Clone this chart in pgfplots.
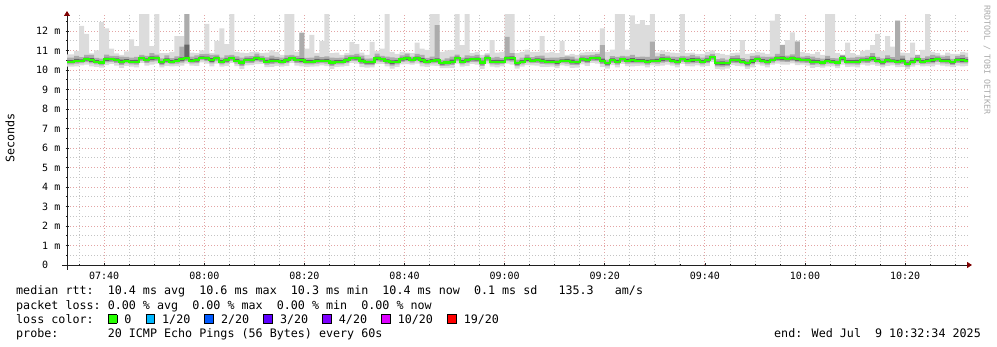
\documentclass[border=0pt]{standalone}
\usepackage{pgfplots}
\pgfplotsset{compat=1.18}
\usepackage{pgfplotstable}
\usepgfplotslibrary{fillbetween}
\usetikzlibrary{arrows.meta}
\usepackage{fontspec}
\newfontfamily\mono{DejaVu Sans Mono}
\newcommand\axfont{\mono\fontsize{10bp}{12bp}\selectfont}
\newcommand\lgfont{\mono\fontsize{11.7bp}{14bp}\selectfont}
\definecolor{smokeA}{HTML}{DCDCDC}
\definecolor{smokeB}{HTML}{ACACAC}
\definecolor{smokeC}{HTML}{666666}
\definecolor{loss0}{HTML}{26FF00}
\definecolor{loss1}{HTML}{00B8FF}
\definecolor{loss2}{HTML}{0059FF}
\definecolor{loss3}{HTML}{5E00FF}
\definecolor{loss4}{HTML}{7E00FF}
\definecolor{loss10}{HTML}{DD00FF}
\definecolor{loss19}{HTML}{FF0000}
\definecolor{mgridc}{HTML}{E3A4A4}
\definecolor{gridc}{HTML}{C4C4C4}
\definecolor{axiscol}{HTML}{202020}
\definecolor{arrowred}{HTML}{7F0000}
\definecolor{wmark}{HTML}{AAAAAA}
\newcommand\swatch[1]{{\setlength\fboxsep{0pt}\setlength\fboxrule{0.8bp}\fcolorbox{black}{#1}{\rule{0pt}{8bp}\rule{8bp}{0pt}}}}
\pgfplotstableread{
t mn p10 p25 med p75 p90 mx
32.567 10.17 10.29 10.36 10.43 10.51 10.63 10.80
33 10.17 10.29 10.36 10.43 10.51 10.63 10.80
34 10.18 10.32 10.40 10.48 10.57 10.72 10.98
35 10.24 10.35 10.42 10.48 10.55 10.66 12.26
36 10.27 10.40 10.48 10.55 10.64 10.77 11.85
37 10.19 10.34 10.42 10.51 10.61 10.77 10.85
38 10.16 10.29 10.37 10.43 10.51 10.62 11.00
39 10.12 10.24 10.31 10.38 10.46 10.58 12.46
40 10.25 10.39 10.47 10.55 10.64 10.79 12.14
41 10.31 10.42 10.49 10.55 10.62 10.73 11.10
42 10.23 10.36 10.44 10.51 10.60 10.73 10.85
43 10.11 10.26 10.34 10.43 10.53 10.69 10.77
44 10.21 10.34 10.42 10.48 10.56 10.67 10.95
45 10.17 10.29 10.36 10.43 10.51 10.63 11.57
46 10.13 10.27 10.35 10.43 10.52 10.67 11.23
47 10.36 10.47 10.54 10.60 10.67 10.78 12.90
48 10.23 10.36 10.44 10.51 10.60 10.73 12.90
49 10.28 10.43 10.51 10.60 10.70 10.86 11.23
50 10.33 10.46 10.54 10.60 10.68 10.79 12.90
51 10.13 10.25 10.32 10.39 10.47 10.59 10.86
52 10.21 10.35 10.43 10.51 10.60 10.75 10.86
53 10.19 10.30 10.37 10.43 10.50 10.61 10.93
54 10.20 10.33 10.41 10.48 10.57 10.70 11.74
55 10.23 10.38 10.46 10.55 10.65 11.20 11.74
56 10.33 10.46 10.54 10.60 11.30 12.90 12.90
57 10.22 10.34 10.41 10.48 10.56 10.68 10.89
58 10.21 10.35 10.43 10.51 10.60 10.75 10.86
59 10.39 10.50 10.57 10.63 10.70 10.81 11.00
60 10.32 10.45 10.53 10.60 10.69 10.82 12.36
61 10.19 10.34 10.42 10.51 10.61 10.77 10.86
62 10.33 10.46 10.54 10.60 10.68 10.79 11.49
63 10.17 10.29 10.36 10.43 10.51 10.63 12.13
64 10.21 10.35 10.43 10.51 10.60 10.75 11.33
65 10.36 10.47 10.54 10.60 10.67 10.78 12.90
66 10.20 10.33 10.41 10.48 10.57 10.70 10.93
67 10.06 10.21 10.29 10.38 10.48 10.64 10.89
68 10.24 10.37 10.45 10.51 10.59 10.70 10.86
69 10.25 10.37 10.44 10.51 10.59 10.71 10.93
70 10.30 10.44 10.52 10.60 10.69 10.84 10.93
71 10.31 10.42 10.49 10.55 10.62 10.73 10.86
72 10.15 10.28 10.36 10.43 10.52 10.65 10.89
73 10.16 10.31 10.39 10.48 10.58 10.74 11.00
74 10.21 10.34 10.42 10.48 10.56 10.67 10.93
75 10.17 10.29 10.36 10.43 10.51 10.63 10.77
76 10.21 10.35 10.43 10.51 10.60 10.75 12.90
77 10.36 10.47 10.54 10.60 10.67 10.78 12.90
78 10.23 10.36 10.44 10.51 10.60 10.73 10.93
79 10.19 10.34 10.42 10.51 10.61 11.90 11.93
80 10.16 10.29 10.37 10.43 10.51 10.62 11.10
81 10.17 10.29 10.36 10.43 10.51 10.63 11.80
82 10.18 10.32 10.40 10.48 10.57 10.72 10.86
83 10.24 10.35 10.42 10.48 10.55 10.66 11.49
84 10.20 10.33 10.41 10.48 10.57 10.70 12.90
85 10.06 10.21 10.29 10.38 10.48 10.64 10.86
86 10.16 10.29 10.37 10.43 10.51 10.62 10.89
87 10.17 10.29 10.36 10.43 10.51 10.63 10.77
88 10.21 10.35 10.43 10.51 10.60 10.75 10.86
89 10.36 10.47 10.54 10.60 10.67 10.78 11.44
90 10.32 10.45 10.53 10.60 10.69 10.82 11.33
91 10.16 10.31 10.39 10.48 10.58 10.74 10.89
92 10.12 10.25 10.33 10.39 10.47 10.58 10.77
93 10.13 10.25 10.32 10.39 10.47 10.59 11.44
94 10.30 10.44 10.52 10.60 10.69 10.84 10.98
95 10.31 10.42 10.49 10.55 10.62 10.73 11.10
96 10.18 10.31 10.39 10.46 10.55 10.68 12.90
97 10.07 10.22 10.30 10.39 10.49 10.65 10.93
98 10.16 10.29 10.37 10.43 10.51 10.62 10.82
99 10.29 10.41 10.48 10.55 10.63 10.75 10.93
100 10.30 10.44 10.52 10.60 10.69 10.84 10.89
101 10.27 10.38 10.45 10.51 10.58 10.69 10.86
102 10.32 10.45 10.53 10.60 10.69 10.82 11.40
103 10.19 10.34 10.42 10.51 10.61 10.77 11.10
104 10.16 10.29 10.37 10.43 10.51 10.62 11.03
105 10.22 10.34 10.41 10.48 10.56 10.68 12.90
106 10.21 10.35 10.43 10.51 10.60 12.30 12.90
107 10.10 10.21 10.28 10.34 10.41 10.52 10.93
108 10.10 10.23 10.31 10.38 10.47 10.60 11.00
109 10.11 10.26 10.34 10.43 10.53 10.69 11.03
110 10.33 10.46 10.54 10.60 10.68 10.79 12.90
111 10.17 10.29 10.36 10.43 10.51 10.63 11.28
112 10.21 10.35 10.43 10.51 10.60 10.75 12.90
113 10.31 10.42 10.49 10.55 10.62 10.73 10.86
114 10.27 10.40 10.48 10.55 10.64 10.77 10.93
115 10.06 10.21 10.29 10.38 10.48 10.64 10.77
116 10.33 10.46 10.54 10.60 10.68 10.79 10.86
117 10.17 10.29 10.36 10.43 10.51 10.63 11.53
118 10.13 10.27 10.35 10.43 10.52 10.67 10.89
119 10.19 10.30 10.37 10.43 10.50 10.61 10.93
120 10.32 10.45 10.53 10.60 10.69 11.70 12.90
121 10.28 10.43 10.51 10.60 10.70 10.86 12.90
122 10.07 10.20 10.28 10.34 10.42 10.53 10.86
123 10.17 10.29 10.36 10.43 10.51 10.63 10.93
124 10.25 10.39 10.47 10.55 10.64 10.79 11.05
125 10.24 10.35 10.42 10.48 10.55 10.66 10.93
126 10.23 10.36 10.44 10.51 10.60 10.73 10.93
127 10.16 10.31 10.39 10.48 10.58 10.74 11.74
128 10.16 10.29 10.37 10.43 10.51 10.62 10.89
129 10.17 10.29 10.36 10.43 10.51 10.63 10.93
130 10.09 10.23 10.31 10.39 10.48 10.63 10.86
131 10.24 10.35 10.42 10.48 10.55 10.66 11.49
132 10.20 10.33 10.41 10.48 10.57 10.70 10.77
133 10.11 10.26 10.34 10.43 10.53 10.69 10.82
134 10.12 10.25 10.33 10.39 10.47 10.58 10.77
135 10.29 10.41 10.48 10.55 10.63 10.75 10.89
136 10.21 10.35 10.43 10.51 10.60 10.75 10.93
137 10.36 10.47 10.54 10.60 10.67 10.78 10.93
138 10.32 10.45 10.53 10.60 10.69 10.82 10.93
139 10.16 10.31 10.39 10.48 10.58 11.28 12.14
140 10.07 10.20 10.28 10.34 10.42 10.53 10.93
141 10.25 10.37 10.44 10.51 10.59 10.71 11.05
142 10.13 10.27 10.35 10.43 10.52 10.67 12.90
143 10.31 10.42 10.49 10.55 10.62 10.73 12.90
144 10.20 10.33 10.41 10.48 10.57 10.70 11.05
145 10.19 10.34 10.42 10.51 10.61 10.77 12.80
146 10.21 10.34 10.42 10.48 10.56 10.67 12.36
147 10.22 10.34 10.41 10.48 10.56 10.68 12.56
148 10.13 10.27 10.35 10.43 10.52 10.67 12.30
149 10.24 10.35 10.42 10.48 10.55 11.45 12.90
150 10.20 10.33 10.41 10.48 10.57 10.70 10.89
151 10.23 10.38 10.46 10.55 10.65 10.81 11.00
152 10.28 10.41 10.49 10.55 10.63 10.74 10.93
153 10.22 10.34 10.41 10.48 10.56 10.68 10.89
154 10.13 10.27 10.35 10.43 10.52 10.67 10.86
155 10.31 10.42 10.49 10.55 10.62 10.73 12.90
156 10.20 10.33 10.41 10.48 10.57 10.70 10.86
157 10.19 10.34 10.42 10.51 10.61 10.77 10.89
158 10.24 10.37 10.45 10.51 10.59 10.70 10.82
159 10.17 10.29 10.36 10.43 10.51 10.63 10.82
160 10.21 10.35 10.43 10.51 10.60 10.75 10.93
161 10.41 10.52 10.59 10.65 10.72 10.83 11.00
162 10.06 10.19 10.27 10.34 10.43 10.56 10.86
163 10.02 10.17 10.25 10.34 10.44 10.60 10.82
164 10.07 10.20 10.28 10.34 10.42 10.53 10.77
165 10.25 10.37 10.44 10.51 10.59 10.71 10.86
166 10.21 10.35 10.43 10.51 10.60 10.75 10.89
167 10.19 10.30 10.37 10.43 10.50 10.61 11.53
168 10.06 10.19 10.27 10.34 10.43 10.56 10.82
169 10.14 10.29 10.37 10.46 10.56 10.72 10.86
170 10.29 10.42 10.50 10.56 10.64 10.75 10.93
171 10.22 10.34 10.41 10.48 10.56 10.68 10.89
172 10.13 10.27 10.35 10.43 10.52 10.67 10.82
173 10.27 10.38 10.45 10.51 10.58 10.69 12.53
174 10.32 10.45 10.53 10.60 10.69 10.82 12.90
175 10.28 10.43 10.51 10.60 10.70 11.28 11.30
176 10.28 10.41 10.49 10.55 10.63 10.74 11.53
177 10.34 10.46 10.53 10.60 10.68 10.80 11.93
178 10.25 10.39 10.47 10.55 10.64 11.45 11.50
179 10.27 10.38 10.45 10.51 10.58 10.69 10.93
180 10.23 10.36 10.44 10.51 10.60 10.73 10.86
181 10.11 10.26 10.34 10.43 10.53 10.69 10.82
182 10.16 10.29 10.37 10.43 10.51 10.62 10.93
183 10.12 10.24 10.31 10.38 10.46 10.58 10.77
184 10.18 10.32 10.40 10.48 10.57 10.72 12.90
185 10.19 10.30 10.37 10.43 10.50 10.61 12.90
186 10.10 10.23 10.31 10.38 10.47 10.60 10.86
187 10.28 10.43 10.51 10.60 10.70 10.77 10.77
188 10.16 10.29 10.37 10.43 10.51 10.62 11.40
189 10.17 10.29 10.36 10.43 10.51 10.63 10.86
190 10.13 10.27 10.35 10.43 10.52 10.67 10.77
191 10.27 10.38 10.45 10.51 10.58 10.69 10.98
192 10.23 10.36 10.44 10.51 10.60 10.73 11.03
193 10.28 10.43 10.51 10.60 10.70 10.86 11.28
194 10.21 10.34 10.42 10.48 10.56 10.67 11.85
195 10.13 10.25 10.32 10.39 10.47 10.59 10.98
196 10.21 10.35 10.43 10.51 10.60 10.75 11.74
197 10.24 10.35 10.42 10.48 10.55 10.66 11.20
198 10.15 10.28 10.36 10.43 10.52 12.50 12.56
199 10.16 10.31 10.39 10.48 10.58 10.74 10.89
200 10.04 10.17 10.25 10.31 10.39 10.50 10.86
201 10.17 10.29 10.36 10.43 10.51 10.63 11.40
202 10.25 10.39 10.47 10.55 10.64 10.77 10.77
203 10.19 10.30 10.37 10.43 10.50 10.61 11.03
204 10.20 10.33 10.41 10.48 10.57 10.70 12.90
205 10.19 10.34 10.42 10.51 10.61 10.77 10.93
206 10.28 10.41 10.49 10.55 10.63 10.74 10.86
207 10.22 10.34 10.41 10.48 10.56 10.68 10.77
208 10.18 10.32 10.40 10.48 10.57 10.72 10.89
209 10.15 10.26 10.33 10.39 10.46 10.57 10.82
210 10.23 10.36 10.44 10.51 10.60 10.73 10.82
211 10.19 10.34 10.42 10.51 10.61 10.77 10.93
212 10.21 10.34 10.42 10.48 10.56 10.67 10.89
212.567 10.21 10.34 10.42 10.48 10.56 10.67 10.89
}\smoke
\begin{document}
\begin{tikzpicture}
\path (0,0) rectangle (997bp,347bp);
\begin{axis}[
  at={(67bp,82bp)}, anchor=south west,
  scale only axis, width=901bp, height=250bp,
  xmin=32.567, xmax=212.567, ymin=0, ymax=12.82,
  axis x line=bottom, axis y line=left,
  axis line style={draw=axiscol, line width=0.9bp},
  x axis line style={-{Triangle[length=5bp,width=6bp,color=arrowred]}, shorten >=-4bp, shorten <=-5bp},
  y axis line style={-{Triangle[length=5bp,width=6bp,color=arrowred]}, shorten >=-4bp, shorten <=-5bp},
  xtick={40,60,...,200},
  xticklabels={07:40,08:00,08:20,08:40,09:00,09:20,09:40,10:00,10:20},
  minor xtick={35,40,...,210},
  ytick={0,1,...,12},
  yticklabels={0\phantom{ m},1 m,2 m,3 m,4 m,5 m,6 m,7 m,8 m,9 m,10 m,11 m,12 m},
  minor ytick={0.5,1,...,12.5},
  grid=both,
  minor grid style={draw=gridc, line width=0.8bp, dash pattern=on 1bp off 2bp},
  major grid style={draw=mgridc, line width=0.8bp, dash pattern=on 1bp off 2bp},
  tick align=center, major tick length=3bp, minor tick length=2bp,
  every tick/.style={draw=axiscol, line width=0.6bp},
  ticklabel style={font=\axfont, text=black},
  xticklabel style={inner sep=0pt, yshift=-5bp},
  yticklabel style={inner sep=0pt, xshift=-5bp},
  ylabel={Seconds},
  every axis y label/.style={at={(axis description cs:-0.0633,0.508)}, rotate=90, anchor=center, font=\lgfont},
  clip=true,
]
\addplot[draw=none, const plot mark left, name path=mn, forget plot] table[x=t,y=mn]{\smoke};
\addplot[draw=none, const plot mark left, name path=mx, forget plot] table[x=t,y=mx]{\smoke};
\addplot[draw=none, const plot mark left, name path=pa, forget plot] table[x=t,y=p10]{\smoke};
\addplot[draw=none, const plot mark left, name path=pb, forget plot] table[x=t,y=p90]{\smoke};
\addplot[draw=none, const plot mark left, name path=qa, forget plot] table[x=t,y=p25]{\smoke};
\addplot[draw=none, const plot mark left, name path=qb, forget plot] table[x=t,y=p75]{\smoke};
\addplot[fill=smokeA, draw=none] fill between[of=mn and mx];
\addplot[fill=smokeB, draw=none] fill between[of=pa and pb];
\addplot[fill=smokeC, draw=none] fill between[of=qa and qb];
\addplot[const plot mark left, draw=loss0, line width=2.2bp] table[x=t,y=med]{\smoke};
\end{axis}
\node[anchor=center, rotate=-90, font=\mono\fontsize{8.3bp}{10bp}\selectfont, text=wmark] at (987bp,287bp) {RRDTOOL / TOBI OETIKER};
\node[anchor=base west, inner sep=0pt, font=\lgfont] at (16bp,52bp) {median rtt:~~10.4 ms avg~~10.6 ms max~~10.3 ms min~~10.4 ms now~~0.1 ms sd~~~135.3~~~am/s};
\node[anchor=base west, inner sep=0pt, font=\lgfont] at (16bp,38bp) {packet loss:~0.00 \% avg~~0.00 \% max~~0.00 \% min~~0.00 \% now};
\node[anchor=base west, inner sep=0pt, font=\lgfont] at (16bp,24bp) {loss color:~~\swatch{loss0}~0~~\swatch{loss1}~1/20~~\swatch{loss2}~2/20~~\swatch{loss3}~3/20~~\swatch{loss4}~4/20~~\swatch{loss10}~10/20~~\swatch{loss19}~19/20};
\node[anchor=base west, inner sep=0pt, font=\lgfont] at (16bp,10bp) {probe:~~~~~~~20 ICMP Echo Pings (56 Bytes) every 60s};
\node[anchor=base east, inner sep=0pt, font=\lgfont] at (981bp,10bp) {end: Wed Jul~~9 10:32:34 2025};
\end{tikzpicture}
\end{document}
